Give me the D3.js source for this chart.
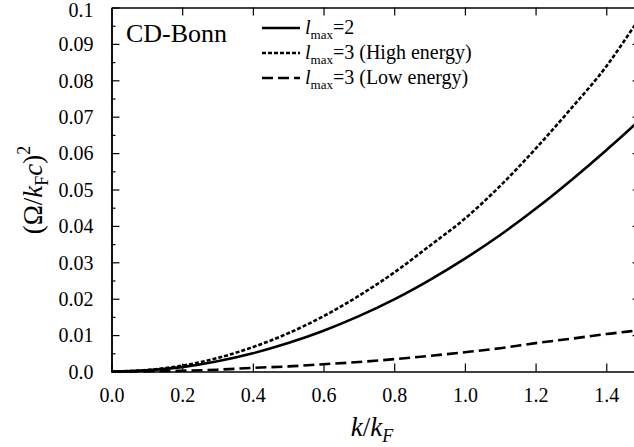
<!DOCTYPE html>
<html><head><meta charset="utf-8">
<script src="https://cdn.jsdelivr.net/npm/d3@7"></script>
</head><body style="margin:0">
<svg id="c" width="634" height="447" font-family="Liberation Serif"></svg>
<script>
const kValues = [0,0.1,0.2,0.3,0.4,0.5,0.6,0.7,0.8,0.9,1.0,1.1,1.2,1.3,1.4,1.48,1.5];
const lmax2 = [0,0.0003,0.0012,0.0028,0.0050,0.0078,0.0112,0.0152,0.0198,0.0251,0.0310,0.0375,0.0447,0.0525,0.0608,0.0678,0.0697];
const lmax3High = [0,0.0004,0.0016,0.0037,0.0067,0.0105,0.0152,0.0208,0.0272,0.0345,0.0420,0.0510,0.0612,0.0722,0.0838,0.0950,0.0978];
const lmax3Low = [0,0.00005,0.0002,0.0005,0.0010,0.0014,0.0020,0.0026,0.0034,0.0043,0.0053,0.0064,0.0078,0.0090,0.0103,0.0112,0.0115];
const xTicks = [0,0.2,0.4,0.6,0.8,1.0,1.2,1.4];
const yTicks = [0,0.01,0.02,0.03,0.04,0.05,0.06,0.07,0.08,0.09,0.1];
const yMinorTicks = [0.005,0.015,0.025,0.035,0.045,0.055,0.065,0.075,0.085,0.095];
const xTickLabels = ["0.0","0.2","0.4","0.6","0.8","1.0","1.2","1.4"];
const yTickLabels = ["0.0","0.01","0.02","0.03","0.04","0.05","0.06","0.07","0.08","0.09","0.1"];
const seriesNames = ["=2","=3 (High energy)","=3 (Low energy)"];

const svg = d3.select("#c");
const L=111.5, R=641.6, T=7.5, B=371.5;
const x = d3.scaleLinear().domain([0,1.5]).range([L,R]);
const y = d3.scaleLinear().domain([0,0.1]).range([B,T]);

function txt(sel, size){ return sel.attr("font-family","Liberation Serif").attr("font-size",size); }

txt(svg.append("text").attr("x",126).attr("y",42),26).text("CD-Bonn");

const series = [
  {vals:lmax2, dash:null},
  {vals:lmax3High, dash:"4,2"},
  {vals:lmax3Low, dash:"11,5"}
];
const line = d3.line().x((d,i)=>x(kValues[i])).y(d=>y(d)).curve(d3.curveMonotoneX);
series.forEach(s=>{
  svg.append("path").datum(s.vals).attr("d",line).attr("fill","none").attr("stroke","#000")
    .attr("stroke-width",2.6).attr("stroke-dasharray",s.dash);
});

const fmtX = d=>xTickLabels[xTicks.indexOf(d)];
const fmtY = d=>yTickLabels[yTicks.indexOf(d)];
const axB = svg.append("g").attr("transform",`translate(0,${B})`).call(d3.axisBottom(x).tickValues(xTicks).tickSizeInner(-8).tickSizeOuter(0).tickPadding(16).tickFormat(fmtX));
const axT = svg.append("g").attr("transform",`translate(0,${T})`).call(d3.axisTop(x).tickValues(xTicks.slice(1)).tickSizeInner(-8).tickSizeOuter(0).tickFormat(""));
const axL = svg.append("g").attr("transform",`translate(${L},0)`).call(d3.axisLeft(y).tickValues(yTicks).tickSizeInner(-8).tickSizeOuter(0).tickPadding(18).tickFormat(fmtY));
const axLm = svg.append("g").attr("transform",`translate(${L},0)`).call(d3.axisLeft(y).tickValues(yMinorTicks).tickSizeInner(-4).tickSizeOuter(0).tickFormat(""));
const axR = svg.append("g").attr("transform",`translate(${R},0)`).call(d3.axisRight(y).tickValues(yTicks.slice(1,10)).tickSizeInner(-9).tickSizeOuter(0).tickFormat(""));
[axB,axT,axL,axLm,axR].forEach(a=>{
  a.attr("font-family","Liberation Serif").attr("font-size",20);
  a.selectAll(".domain").attr("stroke","#000").attr("stroke-width",1.5);
  a.selectAll(".tick line").attr("stroke","#000").attr("stroke-width",1.2);
  a.selectAll("text").attr("font-family","Liberation Serif").attr("font-size",20).attr("fill","#000");
});
axL.selectAll("text").attr("dy","0.34em");
axL.selectAll(".tick").filter(d=>d===0.1).select("text").attr("dy","0.45em");

const legY = [28,53,78];
series.forEach((s,i)=>{
  svg.append("line").attr("x1",262).attr("x2",300).attr("y1",legY[i]).attr("y2",legY[i])
    .attr("stroke","#000").attr("stroke-width",2.4).attr("stroke-dasharray",s.dash);
  const t = txt(svg.append("text").attr("x",305).attr("y",legY[i]+6),20);
  t.append("tspan").attr("font-style","italic").text("l");
  t.append("tspan").attr("font-size",13).attr("dy",5).text("max");
  t.append("tspan").attr("dy",-5).text(seriesNames[i]);
});

const xl = txt(svg.append("text").attr("x",372).attr("y",436).attr("text-anchor","middle"),27);
xl.append("tspan").attr("font-style","italic").text("k");
xl.append("tspan").text("/");
xl.append("tspan").attr("font-style","italic").text("k");
xl.append("tspan").attr("font-style","italic").attr("font-size",18).attr("dy",6).text("F");

const yl = txt(svg.append("text").attr("transform","translate(42,190) rotate(-90)").attr("text-anchor","middle"),27);
yl.append("tspan").text("(Ω/");
yl.append("tspan").attr("font-style","italic").text("k");
yl.append("tspan").attr("font-size",18).attr("dy",6).text("F");
yl.append("tspan").attr("font-style","italic").attr("dy",-6).text("c");
yl.append("tspan").text(")");
yl.append("tspan").attr("font-size",18).attr("dy",-12).text("2");
</script></body></html>
